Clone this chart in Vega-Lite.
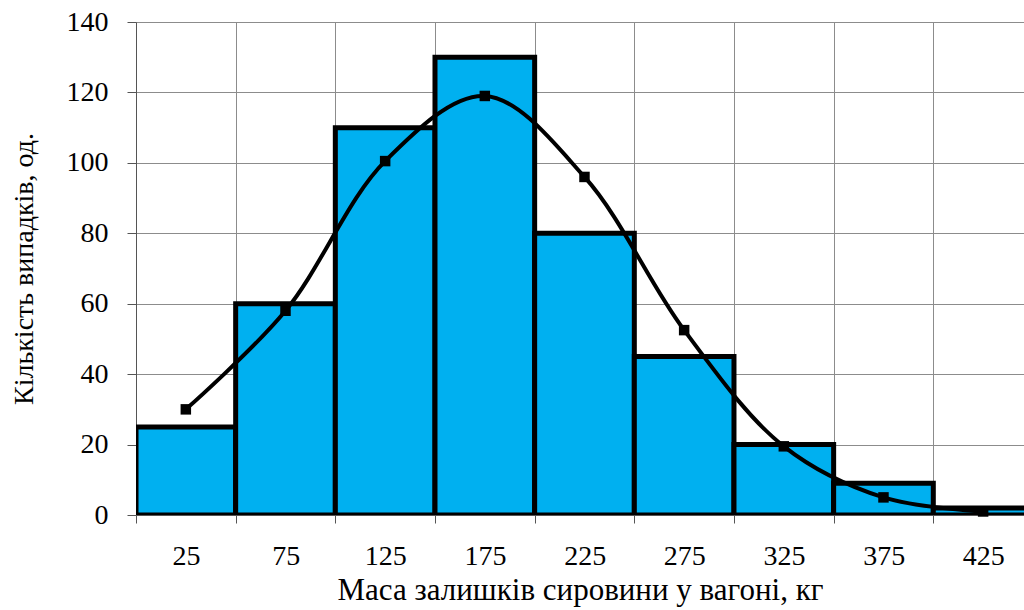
{
  "$schema": "https://vega.github.io/schema/vega-lite/v6.json",
  "autosize": {"type": "none"},
  "padding": {"left": 136, "top": 22, "right": 0, "bottom": 95},
  "width": 888,
  "height": 493,
  "background": "white",
  "config": {
    "view": {"stroke": null},
    "font": "Liberation Serif"
  },
  "datasets": {
    "bars": [
      {"start": 0, "end": 50, "count": 25},
      {"start": 50, "end": 100, "count": 60},
      {"start": 100, "end": 150, "count": 110},
      {"start": 150, "end": 200, "count": 130},
      {"start": 200, "end": 250, "count": 80},
      {"start": 250, "end": 300, "count": 45},
      {"start": 300, "end": 350, "count": 20},
      {"start": 350, "end": 400, "count": 9},
      {"start": 400, "end": 450, "count": 2}
    ],
    "curve": [
      {"mid": 25, "value": 30},
      {"mid": 75, "value": 58},
      {"mid": 125, "value": 100.5},
      {"mid": 175, "value": 119},
      {"mid": 225, "value": 96},
      {"mid": 275, "value": 52.5},
      {"mid": 325, "value": 19.5},
      {"mid": 375, "value": 5},
      {"mid": 425, "value": 1}
    ]
  },
  "layer": [
    {
      "data": {"name": "bars"},
      "mark": {"type": "bar", "fill": "#00B0F0", "stroke": "#000000", "strokeWidth": 5, "clip": true},
      "encoding": {
        "x": {
          "field": "start", "type": "quantitative",
          "scale": {"domain": [0, 445.5], "nice": false, "zero": true},
          "axis": {
            "values": [0, 50, 100, 150, 200, 250, 300, 350, 400],
            "labelExpr": "datum.value + 25",
            "labelOffset": 50,
            "labelFlush": false,
            "labelBound": false,
            "labelOverlap": false,
            "labelFontSize": 28,
            "labelColor": "#000000",
            "labelPadding": 19,
            "tickSize": 8,
            "tickColor": "#555555",
            "domainColor": "#555555",
            "grid": true,
            "gridColor": "#8c8c8c",
            "gridWidth": 1,
            "title": "Маса залишків сировини у вагоні, кг",
            "titleFontSize": 31,
            "titleFontWeight": "normal",
            "titleColor": "#000000",
            "titlePadding": 5
          }
        },
        "x2": {"field": "end"},
        "y": {
          "field": "count", "type": "quantitative",
          "scale": {"domain": [0, 140], "nice": false},
          "axis": {
            "values": [0, 20, 40, 60, 80, 100, 120, 140],
            "labelFontSize": 28,
            "labelColor": "#000000",
            "labelPadding": 19,
            "labelFlush": false,
            "labelOverlap": false,
            "tickSize": 9,
            "tickColor": "#555555",
            "domainColor": "#555555",
            "grid": true,
            "gridColor": "#8c8c8c",
            "gridWidth": 1,
            "title": "Кількість випадків, од.",
            "titleFontSize": 28,
            "titleFontWeight": "normal",
            "titleColor": "#000000",
            "titlePadding": 28
          }
        },
        "y2": {"datum": 0}
      }
    },
    {
      "data": {"name": "curve"},
      "mark": {"type": "line", "interpolate": "catmull-rom", "color": "#000000", "strokeWidth": 4},
      "encoding": {
        "x": {"field": "mid", "type": "quantitative"},
        "y": {"field": "value", "type": "quantitative"}
      }
    },
    {
      "data": {"name": "curve"},
      "mark": {"type": "point", "shape": "square", "filled": true, "color": "#000000", "size": 110, "opacity": 1},
      "encoding": {
        "x": {"field": "mid", "type": "quantitative"},
        "y": {"field": "value", "type": "quantitative"}
      }
    }
  ]
}
